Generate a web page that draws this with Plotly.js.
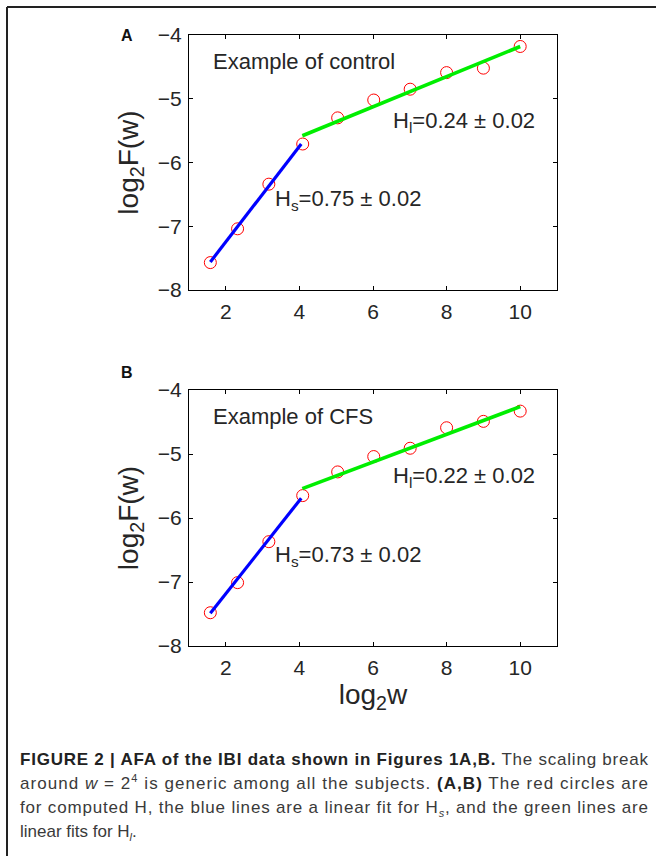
<!DOCTYPE html>
<html>
<head>
<meta charset="utf-8">
<script src="https://cdn.plot.ly/plotly-3.0.1.min.js"></script>
<style>
html,body{margin:0;padding:0;background:#fff;}
#wrap{position:relative;width:656px;height:856px;overflow:hidden;}
#chart{position:absolute;left:0;top:0;width:656px;height:856px;}
#caption{position:absolute;left:20px;top:748px;width:640px;font-family:"Liberation Sans",Arial,Helvetica,sans-serif;font-size:17px;line-height:23.9px;color:#3a3a3a;}
#caption .ln{white-space:nowrap;text-align:left;height:23.9px;}
#caption .ln span.t{display:inline-block;}
#caption b{color:#222;}
#caption sup,#caption sub{font-size:11px;line-height:0;}
</style>
</head>
<body>
<div id="wrap">
<div id="chart"></div>
<div id="caption">
<div class="ln fit"><span class="t"><b>FIGURE 2 | AFA of the IBI data shown in Figures 1A,B.</b> The scaling break</span></div>
<div class="ln fit"><span class="t">around <i>w</i> = 2<sup>4</sup> is generic among all the subjects. <b>(A,B)</b> The red circles are</span></div>
<div class="ln fit"><span class="t">for computed H, the blue lines are a linear fit for H<sub><i>s</i></sub>, and the green lines are</span></div>
<div class="ln"><span class="t">linear fits for H<sub><i>l</i></sub>.</span></div>
</div>
</div>
<script>
// Data (log2 of window size w)
const logW = [1.58, 2.32, 3.17, 4.09, 5.04, 6.02, 7.01, 8.0, 9.0, 10.0];
const logF_control = [-7.57, -7.04, -6.34, -5.71, -5.30, -5.02, -4.85, -4.59, -4.52, -4.18];
const logF_cfs     = [-7.48, -7.01, -6.37, -5.65, -5.28, -5.04, -4.91, -4.59, -4.49, -4.33];

// Fit line endpoints
const fitS_x = [1.58, 4.05];
const fitL_x = [4.08, 10.0];
const fitS_control = [-7.56, -5.71];
const fitL_control = [-5.58, -4.18];
const fitS_cfs = [-7.49, -5.69];
const fitL_cfs = [-5.54, -4.26];

const labelsA = {title: "Example of control", Hl: "H<sub>l</sub>=0.24 ± 0.02", Hs: "H<sub>s</sub>=0.75 ± 0.02"};
const labelsB = {title: "Example of CFS", Hl: "H<sub>l</sub>=0.22 ± 0.02", Hs: "H<sub>s</sub>=0.73 ± 0.02"};

const W = 656, H = 856;
const FONT = '"Liberation Sans", Arial, Helvetica, sans-serif';
const TXT = '#262626';

function px2x(p){return p/W;}
function py2y(p){return 1 - p/H;}

function panelTraces(xa, ya, yData, sY, lY){
  return [
    {x: logW, y: yData, xaxis: xa, yaxis: ya, mode: 'markers', type: 'scatter',
     marker: {symbol: 'circle-open', size: 12, color: '#ff0000', line: {width: 1, color: '#ff0000'}},
     showlegend: false, hoverinfo: 'skip'},
    {x: fitS_x, y: sY, xaxis: xa, yaxis: ya, mode: 'lines', type: 'scatter',
     line: {color: '#0000ff', width: 3.2}, showlegend: false, hoverinfo: 'skip'},
    {x: fitL_x, y: lY, xaxis: xa, yaxis: ya, mode: 'lines', type: 'scatter',
     line: {color: '#00ee00', width: 3.6}, showlegend: false, hoverinfo: 'skip'}
  ];
}

const data = [
  ...panelTraces('x', 'y', logF_control, fitS_control, fitL_control),
  ...panelTraces('x2', 'y2', logF_cfs, fitS_cfs, fitL_cfs)
];

function xAxis(domain, anchor, title){
  const a = {
    domain: domain, anchor: anchor, range: [1, 11],
    tickvals: [2, 4, 6, 8, 10], ticks: 'inside', ticklen: 4, tickwidth: 1, tickcolor: '#000',
    showline: true, linecolor: '#000', linewidth: 1.2, mirror: 'ticks',
    showgrid: false, zeroline: false,
    tickfont: {family: FONT, size: 21, color: TXT}, ticklabelstandoff: 3
  };
  if (title) a.title = {text: title, font: {family: FONT, size: 28, color: TXT}, standoff: 0};
  return a;
}
function yAxis(domain, anchor){
  return {
    domain: domain, anchor: anchor, range: [-8, -4],
    tickvals: [-8, -7, -6, -5, -4], ticks: 'inside', ticklen: 4, tickwidth: 1, tickcolor: '#000',
    showline: true, linecolor: '#000', linewidth: 1.2, mirror: 'ticks',
    showgrid: false, zeroline: false,
    tickfont: {family: FONT, size: 21, color: TXT}, ticklabelstandoff: 2,
    title: {text: 'log<sub>2</sub>F(w)', font: {family: FONT, size: 28, color: TXT}, standoff: 10}
  };
}

function panelAnn(xa, ya, L){
  return [
    {xref: xa, yref: ya, x: 1.60, y: -4.42, xanchor: 'left', yanchor: 'middle', showarrow: false,
     text: L.title, font: {family: FONT, size: 22, color: TXT}},
    {xref: xa, yref: ya, x: 6.50, y: -5.36, xanchor: 'left', yanchor: 'middle', showarrow: false,
     text: L.Hl, font: {family: FONT, size: 22, color: TXT}},
    {xref: xa, yref: ya, x: 3.28, y: -6.59, xanchor: 'left', yanchor: 'middle', showarrow: false,
     text: L.Hs, font: {family: FONT, size: 22, color: TXT}}
  ];
}

const layout = {
  width: W, height: H,
  margin: {l: 0, r: 0, t: 0, b: 0},
  paper_bgcolor: '#fff', plot_bgcolor: '#fff',
  showlegend: false,
  xaxis: xAxis([px2x(189), px2x(557)], 'y', null),
  yaxis: yAxis([py2y(290), py2y(35)], 'x'),
  xaxis2: xAxis([px2x(189), px2x(557)], 'y2', 'log<sub>2</sub>w'),
  yaxis2: yAxis([py2y(646), py2y(390)], 'x2'),
  annotations: [
    ...panelAnn('x', 'y', labelsA),
    ...panelAnn('x2', 'y2', labelsB),
    {xref: 'paper', yref: 'paper', x: px2x(127), y: py2y(36), xanchor: 'center', yanchor: 'middle',
     showarrow: false, text: '<b>A</b>', font: {family: FONT, size: 16, color: '#111'}},
    {xref: 'paper', yref: 'paper', x: px2x(127), y: py2y(372), xanchor: 'center', yanchor: 'middle',
     showarrow: false, text: '<b>B</b>', font: {family: FONT, size: 16, color: '#111'}}
  ],
  shapes: [
    {type: 'line', xref: 'paper', yref: 'paper', x0: px2x(7), x1: 1, y0: py2y(7), y1: py2y(7),
     line: {color: '#222', width: 2}},
    {type: 'line', xref: 'paper', yref: 'paper', x0: px2x(7), x1: px2x(7), y0: py2y(7), y1: 0,
     line: {color: '#222', width: 2}}
  ]
};

Plotly.newPlot('chart', data, layout, {staticPlot: true, displayModeBar: false});

// Fit justified caption lines to the reference line width
const TARGET = 628;
document.querySelectorAll('#caption .ln.fit').forEach(function(div){
  const span = div.querySelector('span.t');
  const w = span.getBoundingClientRect().width;
  const n = span.textContent.length - 1;
  if (n > 0) span.style.letterSpacing = ((TARGET - w) / n).toFixed(3) + 'px';
});
</script>
</body>
</html>
